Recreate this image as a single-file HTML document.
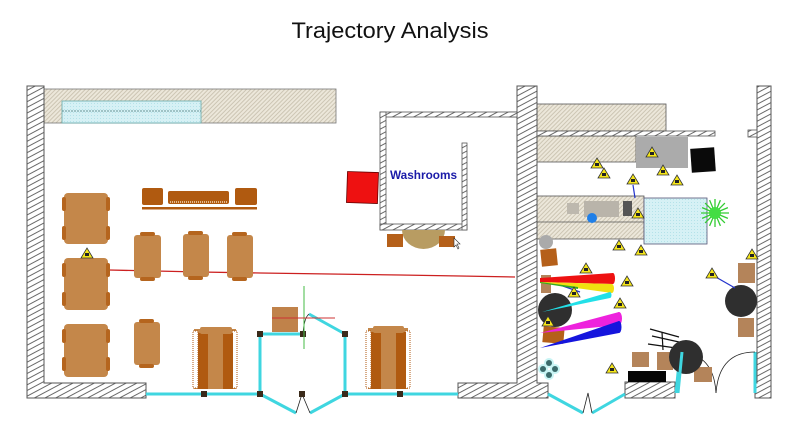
<!DOCTYPE html>
<html><head><meta charset="utf-8"><style>
html,body{margin:0;padding:0;background:#fff;width:800px;height:428px;overflow:hidden}
svg{display:block}
</style></head><body>
<svg width="800" height="428" viewBox="0 0 800 428" xmlns="http://www.w3.org/2000/svg">
<defs>
<pattern id="h" width="5" height="5" patternUnits="userSpaceOnUse" patternTransform="rotate(-28)">
<rect width="5" height="5" fill="#fff"/><line x1="0" y1="2.5" x2="5" y2="2.5" stroke="#444" stroke-width="0.8"/></pattern>
<pattern id="s" width="3" height="3" patternUnits="userSpaceOnUse" patternTransform="rotate(-45)">
<rect width="3" height="3" fill="#ece7da"/><line x1="0" y1="0.5" x2="3" y2="0.5" stroke="#bfb6a2" stroke-width="0.7"/></pattern>
<pattern id="b" width="3" height="3" patternUnits="userSpaceOnUse">
<rect width="3" height="3" fill="#d6f1f5"/><circle cx="1.5" cy="1.5" r="0.5" fill="#a9dde5"/></pattern>
</defs>

<text x="390" y="38" font-family="Liberation Sans, sans-serif" font-size="22" text-anchor="middle" textLength="197" lengthAdjust="spacingAndGlyphs" fill="#111">Trajectory Analysis</text>

<!-- stipple areas -->
<rect x="44" y="89" width="292" height="34" fill="url(#s)" stroke="#777" stroke-width="0.8"/>
<rect x="62" y="101" width="139" height="22" fill="url(#b)" stroke="#6aa" stroke-width="0.8"/>
<line x1="62" y1="111" x2="201" y2="111" stroke="#477" stroke-width="0.8" stroke-dasharray="2,1"/>
<rect x="537" y="104" width="129" height="27" fill="url(#s)" stroke="#555" stroke-width="0.8"/>
<rect x="537" y="136" width="99" height="26" fill="url(#s)" stroke="#555" stroke-width="0.8"/>
<rect x="537" y="196" width="107" height="43" fill="url(#s)" stroke="#555" stroke-width="0.8"/>
<line x1="537" y1="222" x2="644" y2="222" stroke="#555" stroke-width="0.8"/>
<rect x="567" y="203" width="12" height="11" fill="#bdb8ae"/>
<rect x="584" y="201" width="35" height="16" fill="#b9b4aa"/>
<rect x="623" y="201" width="9" height="15" fill="#555"/>
<circle cx="592" cy="218" r="5" fill="#1f7fe8"/>
<rect x="644" y="198" width="63" height="46" fill="url(#b)" stroke="#557" stroke-width="0.8"/>
<rect x="636" y="137" width="52" height="31" fill="#ababab"/>
<rect x="691" y="148" width="24" height="24" fill="#0a0a0a" transform="rotate(-4 703 160)"/>

<!-- walls -->
<polygon points="27,86 44,86 44,383 146,383 146,398 27,398" fill="url(#h)" stroke="#555" stroke-width="1"/>
<polygon points="517,86 537,86 537,383 548,383 548,398 458,398 458,383 517,383" fill="url(#h)" stroke="#555" stroke-width="1"/>
<rect x="509" y="112" width="8" height="5" fill="url(#h)" stroke="#555" stroke-width="0.8"/>
<rect x="380" y="112" width="137" height="5" fill="url(#h)" stroke="#555" stroke-width="0.8"/>
<rect x="380" y="112" width="6" height="118" fill="url(#h)" stroke="#555" stroke-width="0.8"/>
<rect x="380" y="224" width="87" height="6" fill="url(#h)" stroke="#555" stroke-width="0.8"/>
<rect x="462" y="143" width="5" height="87" fill="url(#h)" stroke="#555" stroke-width="0.8"/>
<rect x="537" y="131" width="178" height="5" fill="url(#h)" stroke="#555" stroke-width="0.8"/>
<polygon points="757,86 771,86 771,398 755,398 755,383 757,383" fill="url(#h)" stroke="#555" stroke-width="1"/>
<rect x="748" y="130" width="9" height="7" fill="url(#h)" stroke="#555" stroke-width="0.8"/>
<rect x="625" y="382" width="50" height="16" fill="url(#h)" stroke="#555" stroke-width="1"/>

<text x="390" y="179" font-family="Liberation Sans, sans-serif" font-size="12" font-weight="bold" fill="#1a1aa8" textLength="67" lengthAdjust="spacingAndGlyphs">Washrooms</text>
<rect x="347" y="172" width="31" height="31" fill="#ee1111" stroke="#600" stroke-width="0.8" transform="rotate(2 362 187)"/>
<path d="M402,230 A21.5,19 0 0 0 445,230 Z" fill="#b89c62"/>
<rect x="387" y="234" width="16" height="13" fill="#b5601a"/>
<rect x="439" y="236" width="16" height="11" fill="#b5601a"/>
<path d="M454,238 l0,9 l2,-2 l2,4 l1,-1 l-2,-4 l3,0 z" fill="#fff" stroke="#333" stroke-width="0.6"/>

<!-- red trajectory -->
<polyline points="109,270 200,272 260,273 330,274 400,275 460,276 515,277" fill="none" stroke="#cc2020" stroke-width="1.3"/>

<!-- left tables -->
<g fill="#c4874a">
<rect x="64" y="193" width="44" height="51" rx="4"/>
<rect x="64" y="258" width="44" height="52" rx="4"/>
<rect x="64" y="324" width="44" height="53" rx="4"/>
</g>
<g fill="#b5651e">
<rect x="62" y="197" width="4" height="14" rx="2"/><rect x="62" y="226" width="4" height="14" rx="2"/>
<rect x="106" y="197" width="4" height="14" rx="2"/><rect x="106" y="226" width="4" height="14" rx="2"/>
<rect x="62" y="263" width="4" height="14" rx="2"/><rect x="62" y="292" width="4" height="14" rx="2"/>
<rect x="106" y="263" width="4" height="14" rx="2"/><rect x="106" y="292" width="4" height="14" rx="2"/>
<rect x="62" y="329" width="4" height="14" rx="2"/><rect x="62" y="357" width="4" height="14" rx="2"/>
<rect x="106" y="329" width="4" height="14" rx="2"/><rect x="106" y="357" width="4" height="14" rx="2"/>
</g>
<g fill="#c4874a">
<rect x="134" y="235" width="27" height="43" rx="3"/>
<rect x="183" y="234" width="26" height="43" rx="3"/>
<rect x="227" y="235" width="26" height="43" rx="3"/>
<rect x="134" y="322" width="26" height="43" rx="3"/>
</g>
<g fill="#b5651e">
<rect x="140" y="232" width="15" height="4" rx="2"/><rect x="140" y="277" width="15" height="4" rx="2"/>
<rect x="188" y="231" width="15" height="4" rx="2"/><rect x="188" y="276" width="15" height="4" rx="2"/>
<rect x="232" y="232" width="15" height="4" rx="2"/><rect x="232" y="277" width="15" height="4" rx="2"/>
<rect x="139" y="319" width="15" height="4" rx="2"/><rect x="139" y="364" width="15" height="4" rx="2"/>
</g>
<!-- sofa row -->
<g fill="#b05a10">
<rect x="142" y="188" width="21" height="17" rx="2"/>
<rect x="168" y="191" width="61" height="13" rx="2"/>
<rect x="235" y="188" width="22" height="17" rx="2"/>
<rect x="142" y="207" width="115" height="2.5"/>
</g>
<line x1="170" y1="202" x2="227" y2="202" stroke="#f2d8b8" stroke-width="1.5" stroke-dasharray="1,1"/>
<!-- vertical sofas -->
<g>
<rect x="194" y="329" width="42" height="60" fill="#c4874a"/>
<rect x="193" y="331" width="5" height="57" fill="#fff" stroke="#b05a10" stroke-width="1" stroke-dasharray="1,1"/>
<rect x="232" y="331" width="5" height="57" fill="#fff" stroke="#b05a10" stroke-width="1" stroke-dasharray="1,1"/>
<rect x="198" y="333" width="10" height="56" fill="#b05a10"/>
<rect x="223" y="333" width="10" height="56" fill="#b05a10"/>
<rect x="200" y="327" width="32" height="7" rx="2" fill="#c4874a"/>
</g>
<g>
<rect x="368" y="328" width="40" height="61" fill="#c4874a"/>
<rect x="366" y="331" width="5" height="57" fill="#fff" stroke="#b05a10" stroke-width="1" stroke-dasharray="1,1"/>
<rect x="405" y="331" width="5" height="57" fill="#fff" stroke="#b05a10" stroke-width="1" stroke-dasharray="1,1"/>
<rect x="371" y="332" width="10" height="57" fill="#b05a10"/>
<rect x="396" y="332" width="10" height="57" fill="#b05a10"/>
<rect x="373" y="326" width="31" height="7" rx="2" fill="#c4874a"/>
</g>

<!-- glass structure -->
<g fill="none" stroke="#3fd6e0" stroke-width="3">
<line x1="146" y1="394" x2="260" y2="394"/>
<line x1="345" y1="394" x2="458" y2="394"/>
<line x1="260" y1="334" x2="260" y2="394"/>
<line x1="345" y1="334" x2="345" y2="394"/>
<line x1="260" y1="334" x2="303" y2="334"/>
<line x1="309" y1="314" x2="345" y2="334"/>
<line x1="260" y1="394" x2="296" y2="413"/>
<line x1="310" y1="413" x2="345" y2="394"/>
<line x1="548" y1="394" x2="583" y2="413"/>
<line x1="592" y1="413" x2="625" y2="394"/>
<line x1="680" y1="353" x2="676" y2="393"/>
<line x1="755" y1="352" x2="755" y2="393"/>
</g>
<g fill="none" stroke="#222" stroke-width="0.8">
<path d="M296,413 L302,394 L310,413"/>
<path d="M583,413 L588,393 L592,413"/>
<path d="M303,334 Q304,318 309,314"/>
<path d="M683,352 Q714,356 716,393"/>
<path d="M716,393 Q719,352 755,352"/>
</g>
<g fill="#3a2a1a">
<rect x="201" y="391" width="6" height="6"/><rect x="257" y="391" width="6" height="6"/>
<rect x="257" y="331" width="6" height="6"/><rect x="300" y="331" width="6" height="6"/>
<rect x="342" y="331" width="6" height="6"/><rect x="342" y="391" width="6" height="6"/>
<rect x="299" y="391" width="6" height="6"/><rect x="397" y="391" width="6" height="6"/>
</g>
<rect x="272" y="307" width="26" height="25" fill="#c0824a"/>
<line x1="304" y1="286" x2="304" y2="349" stroke="#44bb44" stroke-width="1"/>
<line x1="272" y1="318" x2="335" y2="318" stroke="#cc3333" stroke-width="1"/>

<!-- right room -->
<circle cx="546" cy="242" r="7" fill="#aaaaaa"/>
<rect x="541" y="249" width="16" height="17" fill="#b5601a" transform="rotate(-6 549 257)"/>
<rect x="541" y="275" width="10" height="18" fill="#b4845a"/>
<rect x="543" y="327" width="21" height="16" fill="#b5601a" transform="rotate(5 553 335)"/>
<circle cx="555" cy="310" r="17" fill="#2f2f2f"/>
<line x1="560" y1="285" x2="580" y2="292" stroke="#2233cc" stroke-width="1.2"/>
<polygon points="540,278 613,273 613,284 540,282" fill="#ee1111"/>
<ellipse cx="613" cy="278.5" rx="2" ry="5.5" fill="#ee1111"/>
<polygon points="540,282 612,284 612,293 540,283" fill="#f0e010"/>
<ellipse cx="612" cy="288.5" rx="2" ry="4.5" fill="#f0e010"/>
<polygon points="540,282 578,287 578,289 540,283" fill="#33aa22"/>
<polygon points="542,312 610,292 610,298" fill="#22e0e8"/>
<ellipse cx="610" cy="295" rx="1.5" ry="3" fill="#22e0e8"/>
<polygon points="540,333 619,312 619,325" fill="#ee22dd"/>
<ellipse cx="619" cy="318.5" rx="3" ry="6.5" fill="#ee22dd"/>
<polygon points="540,348 619,321 619,333" fill="#1515dd"/>
<ellipse cx="619" cy="327" rx="2.5" ry="6" fill="#1515dd"/>

<g fill="#3b6b6b"><circle cx="549" cy="363" r="5" fill="#c8f4f4"/><circle cx="543" cy="369" r="5" fill="#c8f4f4"/><circle cx="555" cy="369" r="5" fill="#c8f4f4"/><circle cx="549" cy="375" r="5" fill="#c8f4f4"/>
<circle cx="549" cy="363" r="3"/><circle cx="543" cy="369" r="3"/><circle cx="555" cy="369" r="3"/><circle cx="549" cy="375" r="3"/></g>

<rect x="628" y="371" width="38" height="11" fill="#050505"/>
<rect x="632" y="352" width="17" height="15" fill="#b4845a"/>
<rect x="657" y="352" width="16" height="18" fill="#b4845a"/>
<rect x="694" y="367" width="18" height="15" fill="#b4845a"/>
<g stroke="#111" stroke-width="1.2">
<line x1="650" y1="329" x2="679" y2="337"/>
<line x1="652" y1="336" x2="679" y2="342"/>
<line x1="648" y1="344" x2="676" y2="348"/>
<line x1="662" y1="332" x2="663" y2="350"/>
</g>
<circle cx="686" cy="357" r="17" fill="#2f2f2f"/>
<line x1="682" y1="352" x2="678" y2="393" stroke="#3fd6e0" stroke-width="3"/>

<rect x="738" y="263" width="17" height="20" fill="#b4845a"/>
<rect x="738" y="318" width="16" height="19" fill="#b4845a"/>
<circle cx="741" cy="301" r="16" fill="#2f2f2f"/>
<line x1="714" y1="276" x2="735" y2="288" stroke="#2233cc" stroke-width="1.2"/>
<line x1="633" y1="185" x2="635" y2="198" stroke="#2233cc" stroke-width="1.2"/>

<!-- green burst -->
<g stroke="#33cc33" stroke-width="1.3">
<path d="M715,213L729,213M715,213L727.9,218.4M715,213L724.9,222.9M715,213L720.4,225.9M715,213L715,227M715,213L709.6,225.9M715,213L705.1,222.9M715,213L702.1,218.4M715,213L701,213M715,213L702.1,207.6M715,213L705.1,203.1M715,213L709.6,200.1M715,213L715,199M715,213L720.4,200.1M715,213L724.9,203.1M715,213L727.9,207.6"/>
</g>
<circle cx="715" cy="213" r="6" fill="#44dd44"/>

<!-- warning triangles -->
<g fill="#f5e61a" stroke="#333" stroke-width="0.8">
<polygon points="81,258 93,258 87,248"/>
<polygon points="591,168 603,168 597,158"/>
<polygon points="598,178 610,178 604,168"/>
<polygon points="627,184 639,184 633,174"/>
<polygon points="646,157 658,157 652,147"/>
<polygon points="657,175 669,175 663,165"/>
<polygon points="671,185 683,185 677,175"/>
<polygon points="632,218 644,218 638,208"/>
<polygon points="613,250 625,250 619,240"/>
<polygon points="635,255 647,255 641,245"/>
<polygon points="746,259 758,259 752,249"/>
<polygon points="580,273 592,273 586,263"/>
<polygon points="621,286 633,286 627,276"/>
<polygon points="568,297 580,297 574,287"/>
<polygon points="614,308 626,308 620,298"/>
<polygon points="542,326 554,326 548,316"/>
<polygon points="606,373 618,373 612,363"/>
<polygon points="706,278 718,278 712,268"/>
</g>
<g fill="#222">
<rect x="85" y="253" width="4" height="3"/><rect x="595" y="163" width="4" height="3"/><rect x="602" y="173" width="4" height="3"/>
<rect x="631" y="179" width="4" height="3"/><rect x="650" y="152" width="4" height="3"/><rect x="661" y="170" width="4" height="3"/>
<rect x="675" y="180" width="4" height="3"/><rect x="636" y="213" width="4" height="3"/><rect x="617" y="245" width="4" height="3"/>
<rect x="639" y="250" width="4" height="3"/><rect x="750" y="254" width="4" height="3"/><rect x="584" y="268" width="4" height="3"/>
<rect x="625" y="281" width="4" height="3"/><rect x="572" y="292" width="4" height="3"/><rect x="618" y="303" width="4" height="3"/>
<rect x="546" y="321" width="4" height="3"/><rect x="610" y="368" width="4" height="3"/><rect x="710" y="273" width="4" height="3"/>
</g>
</svg>
</body></html>
